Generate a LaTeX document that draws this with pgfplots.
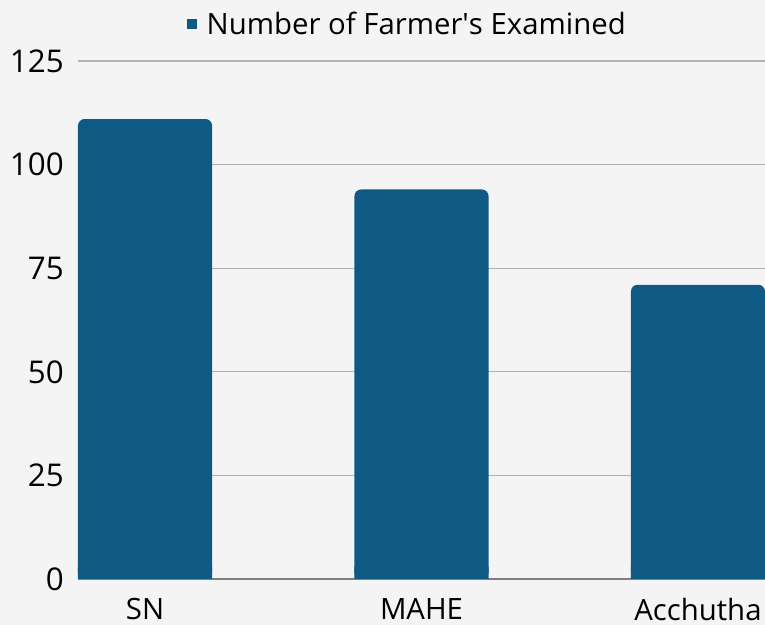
\documentclass[border=0pt]{standalone}
\usepackage{pgfplots}
\pgfplotsset{compat=1.18}
\usepackage{fontspec}
\setmainfont{Open Sans}
\definecolor{barblue}{HTML}{0F5A84}
\definecolor{bg}{HTML}{F4F4F4}
\definecolor{gridc}{HTML}{B4B4B4}
\definecolor{axc}{HTML}{7F7F7F}
\begin{document}
\begin{tikzpicture}
\fill[bg] (-58.5pt,-34.5pt) rectangle (515.25pt,434.25pt);
\useasboundingbox (-58.5pt,-34.5pt) rectangle (515.25pt,434.25pt);
\begin{axis}[
  at={(0,0)}, anchor=south west, scale only axis,
  width=515.25pt, height=388.5pt,
  xmin=-0.2425, xmax=2.2425, ymin=0, ymax=125,
  ytick={0,25,50,75,100,125},
  xtick={0,1,2}, xticklabels={SN,MAHE,Acchutha},
  ymajorgrids, major grid style={gridc, line width=0.8pt},
  separate axis lines,
  axis x line*=bottom, x axis line style={axc, line width=1pt, -},
  axis y line*=left, y axis line style={draw=none},
  major tick length=0pt, tick style={draw=none},
  /pgf/number format/assume math mode=true,
  ticklabel style={text=black},
  yticklabel style={inner sep=0pt, xshift=-10.5pt, font=\fontsize{23.5}{27}\selectfont},
  xticklabel style={inner sep=0pt, text depth=0pt, yshift=-14.5pt, font=\fontsize{22}{26}\selectfont},
  legend style={at={(0.5,1)}, anchor=center, xshift=-10.2pt, yshift=27.75pt,
    draw=none, fill=none, font=\fontsize{22}{26}\selectfont},
  legend image code/.code={\fill[barblue, sharp corners] (0pt,-3.75pt) rectangle (7.5pt,3.75pt); \path (12.5pt,0pt);},
]
\addplot[ybar, bar width=0.485, bar shift=0pt, fill=barblue, draw=none, forget plot]
  coordinates {(0,3) (1,3) (2,3)};
\addplot[ybar, bar width=0.485, bar shift=0pt, fill=barblue, draw=none, rounded corners=5pt]
  coordinates {(0,111) (1,94) (2,71)};
\addlegendentry{Number of Farmer\textquotesingle s Examined}
\end{axis}
\end{tikzpicture}
\end{document}
